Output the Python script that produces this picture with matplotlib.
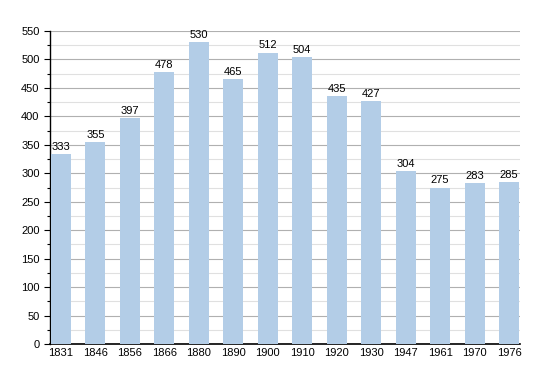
import matplotlib
matplotlib.use("Agg")
import matplotlib.pyplot as plt
from matplotlib.ticker import MultipleLocator

plt.rcParams['font.family'] = ['Liberation Sans', 'DejaVu Sans']

years = ["1831", "1846", "1856", "1866", "1880", "1890", "1900", "1910", "1920", "1930", "1947", "1961", "1970", "1976"]
population = [333, 355, 397, 478, 530, 465, 512, 504, 435, 427, 304, 275, 283, 285]

fig = plt.figure(figsize=(5.5, 3.73), dpi=100)
ax = fig.add_axes([50/550, 29/373, 470/550, 313/373])
x = list(range(len(years)))
ax.bar(x, population, width=0.58, color="#b3cde7", zorder=3)
for xi, v in zip(x, population):
    ax.text(xi, v + 4, str(v), ha="center", va="bottom", fontsize=8, zorder=4)

ax.set_xlim(-0.32, len(years) - 1 + 0.32)
ax.set_ylim(0, 550)
ax.set_xticks(x)
ax.set_xticklabels(years, fontsize=8)
ax.yaxis.set_major_locator(MultipleLocator(50))
ax.yaxis.set_minor_locator(MultipleLocator(25))
ax.tick_params(axis="y", which="major", labelsize=8, length=4, width=0.8)
ax.tick_params(axis="y", which="minor", length=2, width=0.8)
ax.tick_params(axis="x", length=0, pad=3)
ax.grid(axis="y", which="major", color="#b0b0b0", linewidth=0.8, zorder=0)
ax.grid(axis="y", which="minor", color="#e0e0e0", linewidth=0.8, zorder=0)
for s in ["top", "right"]:
    ax.spines[s].set_visible(False)
ax.spines["left"].set_linewidth(1.0)
ax.spines["bottom"].set_linewidth(1.2)

fig.savefig("out.png", dpi=100)
